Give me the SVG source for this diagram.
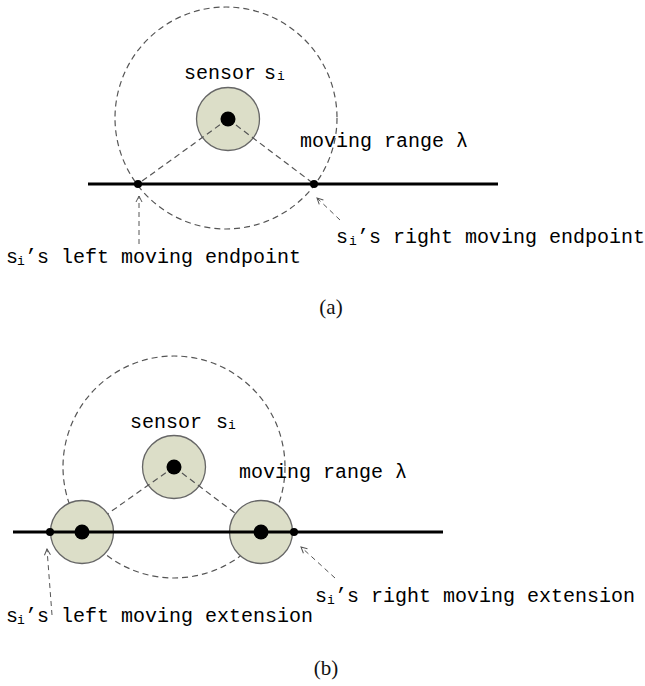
<svg xmlns="http://www.w3.org/2000/svg" width="645" height="686" viewBox="0 0 645 686">
<defs>
<style>
.range{fill:none;stroke:#555;stroke-width:1.2;stroke-dasharray:6 4}
.dash{fill:none;stroke:#555;stroke-width:1.2;stroke-dasharray:6 4}
.arr{fill:none;stroke:#555;stroke-width:1;stroke-dasharray:5 4;marker-end:url(#ah)}
.sensor{fill:#dcdec8;stroke:#666;stroke-width:1.3}
.axis{stroke:#000;stroke-width:3}
.dot{fill:#000}
.lbl{font-family:"Liberation Mono",monospace;font-size:20px;fill:#000}
.sub{font-size:13px}
.cap{font-family:"Liberation Serif",serif;font-size:21px;fill:#111;text-anchor:middle}
</style>
<marker id="ah" viewBox="0 0 8 8" refX="7" refY="4" markerWidth="8" markerHeight="8" markerUnits="userSpaceOnUse" orient="auto">
<path d="M1,1 L7,4 L1,7" fill="none" stroke="#555" stroke-width="1"/>
</marker>
</defs>

<!-- (a) -->
<g id="a-range"><circle class="range" cx="226" cy="118" r="111"/></g>
<g id="a-sensor"><circle class="sensor" cx="228" cy="119" r="31.5"/></g>
<g id="connectors-a">
<line class="dash" x1="228" y1="119" x2="138" y2="184"/>
<line class="dash" x1="228" y1="119" x2="314" y2="184"/>
<line class="arr" x1="139" y1="244" x2="139" y2="196"/>
<line class="arr" x1="340" y1="220" x2="317" y2="198"/>
</g>
<g id="a-sensor-dot"><circle class="dot" cx="228" cy="119" r="7.5"/></g>
<g id="a-axis"><line class="axis" x1="88" y1="184" x2="498" y2="184"/></g>
<g id="a-left-end"><circle class="dot" cx="138" cy="184" r="4"/></g>
<g id="a-right-end"><circle class="dot" cx="314" cy="184" r="4"/></g>
<g id="a-labels">
<text class="lbl" y="79"><tspan x="184">sensor</tspan><tspan x="264">s</tspan><tspan class="sub" x="277" dy="1">i</tspan></text>
<text class="lbl" x="300" y="147">moving range λ</text>
<text class="lbl" y="263"><tspan x="6">s</tspan><tspan class="sub" x="17" dy="2">i</tspan><tspan x="25" dy="-2">’s left moving endpoint</tspan></text>
<text class="lbl" y="243"><tspan x="336">s</tspan><tspan class="sub" x="349" dy="2">i</tspan><tspan x="357" dy="-2">’s right moving endpoint</tspan></text>
<text class="cap" x="331" y="314">(a)</text>
</g>

<!-- (b) -->
<g id="b-range"><circle class="range" cx="174" cy="467" r="111"/></g>
<g id="b-sensor"><circle class="sensor" cx="174" cy="467" r="31.5"/></g>
<g id="connectors-b">
<line class="dash" x1="174" y1="467" x2="82" y2="532"/>
<line class="dash" x1="174" y1="467" x2="260" y2="532"/>
<line class="arr" x1="52" y1="615" x2="47" y2="549"/>
<line class="arr" x1="335" y1="578" x2="301" y2="547"/>
</g>
<g id="b-sensor-dot"><circle class="dot" cx="174" cy="467" r="7.5"/></g>
<g id="b-left-sensor"><circle class="sensor" cx="82" cy="532" r="31.5"/></g>
<g id="b-right-sensor"><circle class="sensor" cx="261" cy="532" r="31.5"/></g>
<g id="b-axis"><line class="axis" x1="13" y1="532" x2="443" y2="532"/></g>
<g id="b-left-sensor-dot"><circle class="dot" cx="82" cy="532" r="7.5"/></g>
<g id="b-right-sensor-dot"><circle class="dot" cx="261" cy="532" r="7.5"/></g>
<g id="b-left-ext"><circle class="dot" cx="50" cy="532" r="4"/></g>
<g id="b-right-ext"><circle class="dot" cx="294" cy="532" r="4"/></g>
<g id="b-labels">
<text class="lbl" y="428"><tspan x="130">sensor</tspan><tspan x="216">s</tspan><tspan class="sub" x="228" dy="1">i</tspan></text>
<text class="lbl" x="239" y="478">moving range λ</text>
<text class="lbl" y="622"><tspan x="6">s</tspan><tspan class="sub" x="17" dy="2">i</tspan><tspan x="25" dy="-2">’s left moving extension</tspan></text>
<text class="lbl" y="602"><tspan x="315">s</tspan><tspan class="sub" x="327" dy="2">i</tspan><tspan x="335" dy="-2">’s right moving extension</tspan></text>
<text class="cap" x="326" y="675">(b)</text>
</g>
</svg>
